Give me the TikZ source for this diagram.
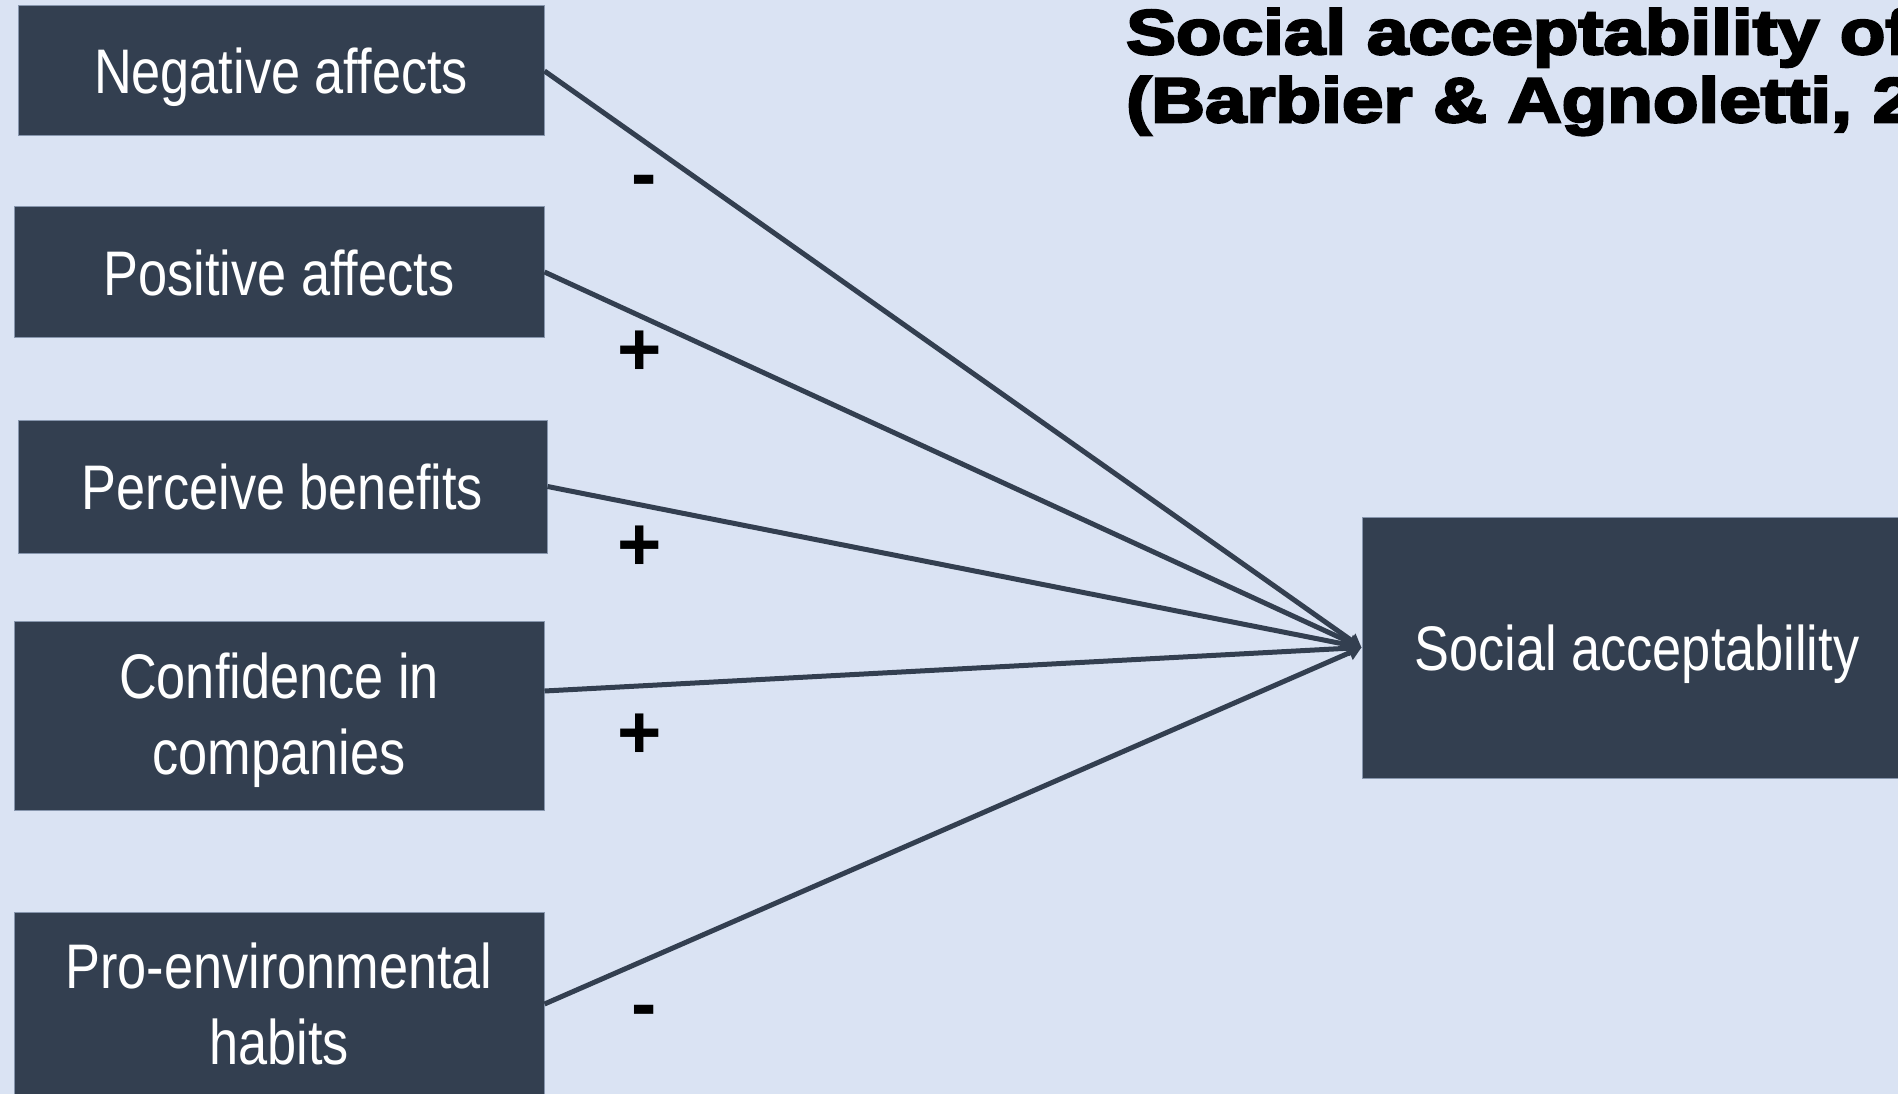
\documentclass[tikz,border=0pt]{standalone}
\usepackage{fontspec}
\setmainfont{Liberation Sans}
\newfontfamily\boxfont[FakeStretch=0.83]{Liberation Sans}
\newfontfamily\titlefont[FakeStretch=1.185,FakeBold=4]{Liberation Sans Bold}
\newfontfamily\signfont{Liberation Sans Bold}
\usetikzlibrary{arrows.meta}
\definecolor{bgc}{HTML}{DAE3F3}
\definecolor{boxc}{HTML}{333F50}
\definecolor{edgec}{HTML}{8796AD}
\begin{document}
\begin{tikzpicture}[x=1pt,y=-1pt,
  boxstyle/.style={draw=edgec, line width=1pt, fill=boxc, text=white, inner sep=0pt,
    font=\boxfont\fontsize{63}{76}\selectfont, align=center},
  oneline/.style={text height=46pt, text depth=0pt},
  lbl/.style={text=white, inner sep=0pt, font=\boxfont\fontsize{63}{76}\selectfont, align=center},
  link/.style={draw=boxc, line width=5pt, -{Triangle[length=13pt,width=15pt]}},
  sign/.style={font=\signfont\fontsize{76}{80}\selectfont, text=black, inner sep=0pt},
  titlestyle/.style={anchor=base west, inner sep=0pt, text=black, font=\titlefont\fontsize{63}{70}\selectfont}]

\useasboundingbox (0,0) rectangle (1898,1094);
\clip (0,0) rectangle (1898,1094);
\fill[bgc] (0,0) rectangle (1898,1094);

% left boxes
\node[boxstyle, oneline, minimum width=526pt, minimum height=130pt] (b1) at (281,71) {Negative affects};
\node[boxstyle, oneline, minimum width=530pt, minimum height=130pt] (b2) at (279,272) {Positive affects};
\node[boxstyle, oneline, minimum width=529pt, minimum height=133pt] (b3) at (282.5,486.5) {Perceive benefits};
\node[boxstyle, minimum width=530pt, minimum height=189pt] (b4) at (279,715.5) {};
\node[lbl, yshift=-5pt] (t4) at (b4.center) {Confidence in\\companies};
\node[boxstyle, minimum width=530pt, minimum height=184pt] (b5) at (279,1004) {};
\node[lbl] (t5) at (b5.center) {Pro-environmental\\habits};

% target box
\node[boxstyle, oneline, minimum width=550pt, minimum height=261pt] (sa) at (1637,647.5) {Social acceptability};

% connectors
\draw[link] (b1.east) -- (sa.west);
\draw[link] (b2.east) -- (sa.west);
\draw[link] (b3.east) -- (sa.west);
\draw[link] ([yshift=24.5pt]b4.east) -- (sa.west);
\draw[link] (b5.east) -- (sa.west);

% signs
\node[sign] (s1) at (644,187) {-};
\node[sign] (s2) at (640,353) {+};
\node[sign] (s3) at (640,548) {+};
\node[sign] (s4) at (640,736) {+};
\node[sign] (s5) at (644,1017) {-};

% title
\node[titlestyle] (title1) at (1126,54) {Social acceptability of};
\node[titlestyle] (title2) at (1126,122) {(Barbier \& Agnoletti, 2};
\end{tikzpicture}
\end{document}
